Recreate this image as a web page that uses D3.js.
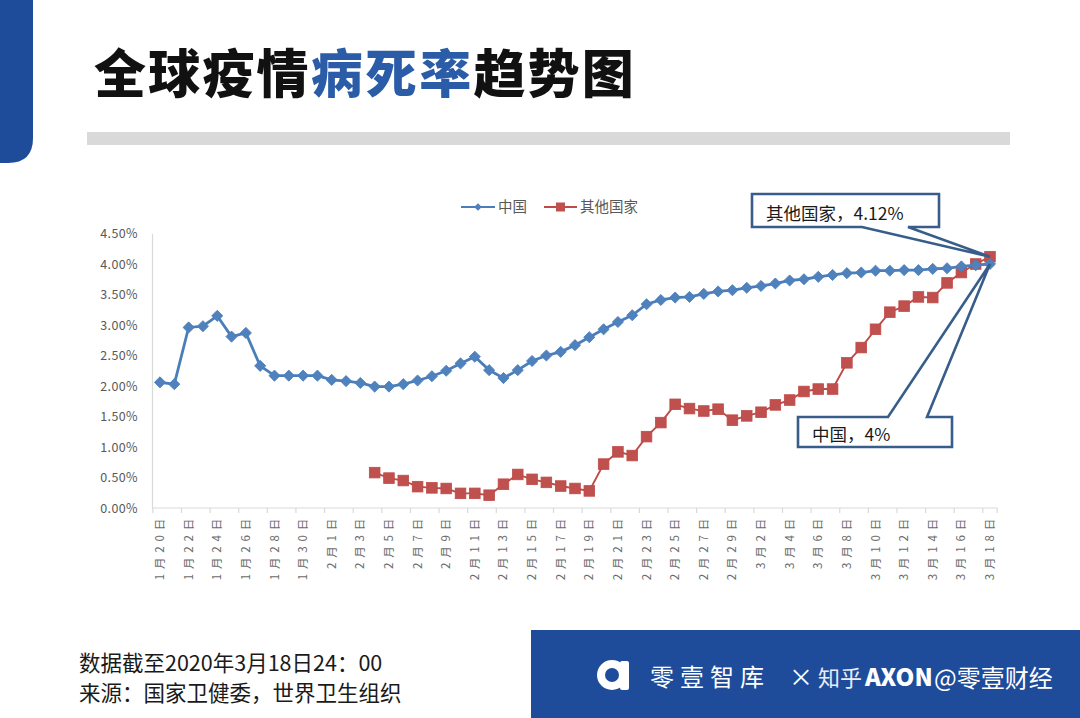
<!DOCTYPE html>
<html>
<head>
<meta charset="utf-8">
<script src="https://cdn.jsdelivr.net/npm/d3@7"></script>
<style>
  html, body { margin: 0; padding: 0; background: #fff; }
  svg { display: block; }
  text { font-family: "Noto Sans CJK SC", "Noto Sans", sans-serif; }
</style>
</head>
<body>
<svg id="chart" width="1080" height="718"></svg>
<script>
// ---------------- data ----------------
const dates = [
  "1月20日","1月21日","1月22日","1月23日","1月24日","1月25日","1月26日","1月27日","1月28日","1月29日","1月30日","1月31日",
  "2月1日","2月2日","2月3日","2月4日","2月5日","2月6日","2月7日","2月8日","2月9日","2月10日","2月11日","2月12日","2月13日","2月14日",
  "2月15日","2月16日","2月17日","2月18日","2月19日","2月20日","2月21日","2月22日","2月23日","2月24日","2月25日","2月26日","2月27日",
  "2月28日","2月29日",
  "3月1日","3月2日","3月3日","3月4日","3月5日","3月6日","3月7日","3月8日","3月9日","3月10日","3月11日","3月12日","3月13日",
  "3月14日","3月15日","3月16日","3月17日","3月18日"
];
const china = [
  2.06,2.03,2.96,2.98,3.15,2.81,2.87,2.33,2.17,2.17,2.17,2.17,
  2.10,2.08,2.05,1.99,1.99,2.03,2.09,2.16,2.25,2.37,2.48,2.26,2.13,2.26,
  2.41,2.50,2.56,2.67,2.80,2.93,3.05,3.16,3.34,3.41,3.45,3.46,3.51,
  3.55,3.57,
  3.61,3.64,3.68,3.73,3.75,3.79,3.82,3.85,3.86,3.89,3.89,3.90,3.90,
  3.92,3.93,3.96,3.98,4.00
];
const others = [
  null,null,null,null,null,null,null,null,null,null,null,null,
  null,null,null,0.58,0.49,0.45,0.35,0.33,0.32,0.24,0.24,0.21,0.39,0.55,
  0.47,0.42,0.36,0.32,0.28,0.72,0.92,0.86,1.17,1.40,1.70,1.63,1.59,
  1.62,1.44,
  1.51,1.57,1.69,1.77,1.91,1.95,1.95,2.38,2.63,2.93,3.21,3.31,3.46,
  3.45,3.69,3.86,4.00,4.12
];
const yTicks = [0, 0.5, 1, 1.5, 2, 2.5, 3, 3.5, 4, 4.5];
const seriesNames = ["中国", "其他国家"];
const calloutTexts = ["其他国家，4.12%", "中国，4%"];

// ---------------- styles ----------------
const BLUE = "#4A7EBB", BLUE_M = "#4F81BD";
const RED = "#BE4B48", RED_M = "#C0504D";
const AXIS = "#d9d9d9", LABEL = "#595959";
const CALLOUT = "#385D8A";
const BRAND = "#1E4C9A";

const svg = d3.select("#chart");

// ---------------- page decoration ----------------
svg.append("path")
  .attr("d", "M0,0 H33 V138 Q33,163 8,163 H0 Z")
  .attr("fill", BRAND);

const title = svg.append("text")
  .attr("x", 94).attr("y", 93)
  .attr("font-size", 52).attr("font-weight", 900)
  .attr("letter-spacing", 2.2)
  .attr("fill", "#111");
title.append("tspan").text("全球疫情");
title.append("tspan").attr("fill", "#2B5CA8").text("病死率");
title.append("tspan").text("趋势图");

svg.append("rect").attr("x", 87).attr("y", 132).attr("width", 923).attr("height", 13).attr("fill", "#d9d9d9");

// ---------------- scales ----------------
const x = d3.scaleBand().domain(dates).range([152.85, 997.15]).paddingInner(0).paddingOuter(0);
const cx = d => x(d) + x.bandwidth() / 2;
const y = d3.scaleLinear().domain([0, 4.5]).range([508, 233.5]);

const plot = svg.append("g");

// y axis
const yAxis = plot.append("g")
  .attr("transform", "translate(152,0)")
  .call(d3.axisLeft(y).tickValues(yTicks).tickFormat(d => d.toFixed(2) + "%").tickSize(0).tickPadding(14));
yAxis.select(".domain").attr("stroke", AXIS).attr("stroke-width", 1.2);
yAxis.selectAll("text")
  .attr("font-family", "'Open Sans', 'Liberation Sans', sans-serif")
  .attr("font-size", 12.5).attr("letter-spacing", 0.4).attr("fill", LABEL);

// x axis line
const xAxisG = plot.append("g").attr("transform", "translate(0,508)");
xAxisG.append("line").attr("x1", x.range()[0]).attr("x2", x.range()[1]).attr("stroke", AXIS).attr("stroke-width", 1.2);
const tickPos = dates.filter((d, i) => i % 2 === 0).map(d => x(d)).concat([x.range()[1]]);
xAxisG.selectAll("line.tick").data(tickPos).join("line")
  .attr("class", "tick")
  .attr("x1", d => d).attr("x2", d => d).attr("y1", 0).attr("y2", 5)
  .attr("stroke", AXIS).attr("stroke-width", 1.2);

// x labels (every other date), rotated
plot.append("g").selectAll("text")
  .data(dates.filter((d, i) => i % 2 === 0))
  .join("text")
  .attr("transform", d => `translate(${cx(d)},514) rotate(-90)`)
  .attr("text-anchor", "end")
  .attr("dy", "0.35em")
  .attr("font-size", 11.5)
  .attr("letter-spacing", 4.8)
  .attr("fill", "#6b6b6b")
  .text(d => d);

// ---------------- series ----------------
const line = d3.line()
  .defined(d => d.v != null)
  .x(d => cx(d.k))
  .y(d => y(d.v));

const chinaData = dates.map((k, i) => ({ k, v: china[i] }));
const othersData = dates.map((k, i) => ({ k, v: others[i] }));

plot.append("path").datum(othersData)
  .attr("d", line).attr("fill", "none").attr("stroke", RED).attr("stroke-width", 1.9);
plot.append("g").selectAll("rect")
  .data(othersData.filter(d => d.v != null)).join("rect")
  .attr("x", d => cx(d.k) - 5.3).attr("y", d => y(d.v) - 5.3)
  .attr("width", 10.6).attr("height", 10.6)
  .attr("fill", RED_M).attr("stroke", RED).attr("stroke-width", 0.8);

plot.append("path").datum(chinaData)
  .attr("d", line).attr("fill", "none").attr("stroke", BLUE).attr("stroke-width", 2.8);
const diamond = d3.symbol(d3.symbolSquare, 62);
plot.append("g").selectAll("path")
  .data(chinaData).join("path")
  .attr("d", diamond)
  .attr("transform", d => `translate(${cx(d.k)},${y(d.v)}) rotate(45)`)
  .attr("fill", BLUE_M).attr("stroke", BLUE).attr("stroke-width", 0.8);

// ---------------- legend ----------------
const leg = svg.append("g").attr("transform", "translate(0,207)");
leg.append("line").attr("x1", 461).attr("x2", 495).attr("stroke", BLUE).attr("stroke-width", 2.2);
leg.append("path").attr("d", d3.symbol(d3.symbolSquare, 30)).attr("transform", "translate(478,0) rotate(45)").attr("fill", BLUE_M);
leg.append("text").attr("x", 498).attr("dy", "0.35em").attr("font-size", 14.5).attr("fill", LABEL).text(seriesNames[0]);
leg.append("line").attr("x1", 544).attr("x2", 577).attr("stroke", RED).attr("stroke-width", 2);
leg.append("rect").attr("x", 556).attr("y", -4.5).attr("width", 9).attr("height", 9).attr("fill", RED_M);
leg.append("text").attr("x", 580).attr("dy", "0.35em").attr("font-size", 14.5).attr("fill", LABEL).text(seriesNames[1]);

// ---------------- callouts ----------------
const last = dates[dates.length - 1];
const ax = cx(last);
const ayOthers = y(others[others.length - 1]);
const ayChina = y(china[china.length - 1]);

svg.append("path")
  .attr("d", `M752,194 H939 V227 H908 L${ax},${ayOthers} L862,227 H752 Z`)
  .attr("fill", "#fff").attr("stroke", CALLOUT).attr("stroke-width", 2.6).attr("stroke-linejoin", "miter");
svg.append("text").attr("x", 766).attr("y", 220).attr("font-size", 17.5).attr("fill", "#1a1a1a").text(calloutTexts[0]);

svg.append("path")
  .attr("d", `M798,417 H888 L${ax},${ayChina} L927,417 H952 V447 H798 Z`)
  .attr("fill", "#fff").attr("stroke", CALLOUT).attr("stroke-width", 2.6).attr("stroke-linejoin", "miter");
svg.append("text").attr("x", 812).attr("y", 441).attr("font-size", 17.5).attr("fill", "#1a1a1a").text(calloutTexts[1]);

// ---------------- footer ----------------
svg.append("text").attr("x", 79).attr("y", 671).attr("font-size", 21.5).attr("fill", "#1a1a1a").text("数据截至2020年3月18日24：00");
svg.append("text").attr("x", 79).attr("y", 701).attr("font-size", 21.5).attr("fill", "#1a1a1a").text("来源：国家卫健委，世界卫生组织");

svg.append("rect").attr("x", 531).attr("y", 630).attr("width", 549).attr("height", 88).attr("fill", BRAND);
// logo
svg.append("circle").attr("cx", 612).attr("cy", 675).attr("r", 11).attr("fill", "none").attr("stroke", "#fff").attr("stroke-width", 8);
svg.append("rect").attr("x", 620).attr("y", 661).attr("width", 9).attr("height", 29).attr("rx", 2).attr("fill", "#fff");
svg.append("text").attr("x", 650).attr("y", 686).attr("font-size", 24).attr("letter-spacing", 6).attr("fill", "#fff").text("零壹智库");
svg.append("text").attr("x", 789).attr("y", 686).attr("font-size", 24)
  .attr("font-family", "'Liberation Sans', sans-serif").attr("fill", "#fff").text("×");
svg.append("text").attr("x", 818).attr("y", 686).attr("font-size", 22).attr("fill", "#fff").attr("opacity", 0.9).text("知乎");
svg.append("text").attr("x", 865).attr("y", 686).attr("font-size", 24).attr("font-weight", 900)
  .attr("font-family", "'Liberation Sans', sans-serif").attr("fill", "#fff").text("AXON");
svg.append("text").attr("x", 934).attr("y", 687).attr("font-size", 24).attr("fill", "#fff").text("@零壹财经");
</script>
</body>
</html>
